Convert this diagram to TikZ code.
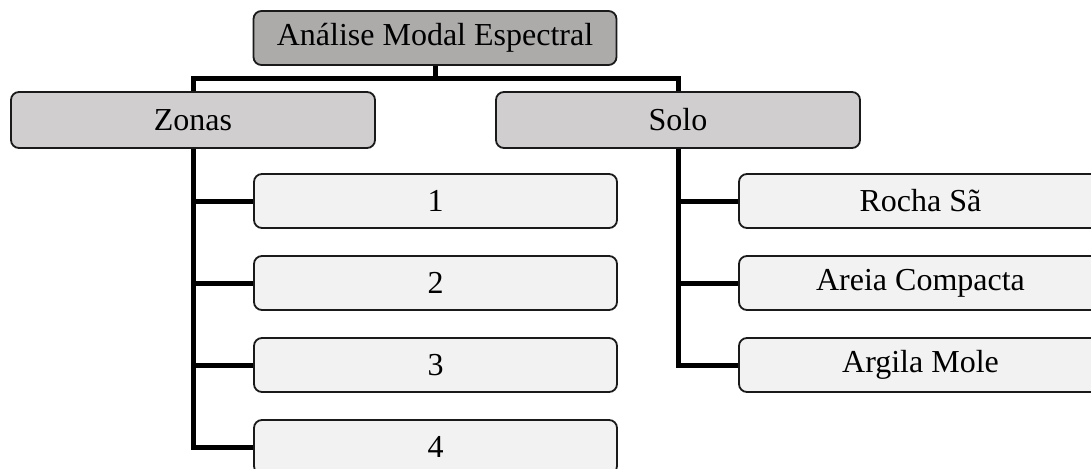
\documentclass[tikz,border=0pt]{standalone}
\usepackage{fontspec}
\setmainfont{Liberation Serif}
\definecolor{rootfill}{HTML}{ADAAAA}
\definecolor{midfill}{HTML}{D0CECE}
\definecolor{leaffill}{HTML}{F2F2F2}
\definecolor{edge}{HTML}{1A1A1A}
\tikzset{
  box/.style={draw=edge, line width=1.8pt, rounded corners=8pt, inner sep=0pt,
              minimum height=54pt, minimum width=363pt,
              font=\fontsize{32}{38}\selectfont},
  rootbox/.style={box, fill=rootfill},
  midbox/.style={box, fill=midfill, minimum height=56pt, minimum width=364pt},
  leafbox/.style={box, fill=leaffill},
  conn/.style={draw=black, line width=5pt}
}
\begin{document}
\begin{tikzpicture}[x=1pt,y=1pt]
  \path[use as bounding box, clip] (0,0) rectangle (1091,-468);

  % root and first level
  \node[rootbox] (root)  at (435,-38)  {Análise Modal Espectral};
  \node[midbox]  (zonas) at (193,-120) {Zonas};
  \node[midbox]  (solo)  at (678,-120) {Solo};

  % zones
  \node[leafbox] (z1) at (435.5,-201) {1};
  \node[leafbox] (z2) at (435.5,-283) {2};
  \node[leafbox] (z3) at (435.5,-365) {3};
  \node[leafbox] (z4) at (435.5,-447) {4};

  % soil types
  \node[leafbox] (s1) at (920.5,-201) {Rocha Sã};
  \node[leafbox] (s2) at (920.5,-283) {Areia Compacta};
  \node[leafbox] (s3) at (920.5,-365) {Argila Mole};

  % top-level bar
  \coordinate (bar) at (435,-79);
  \draw[conn] (root.south) -- (bar);
  \draw[conn] (zonas.north) |- (bar) -| (solo.north);

  % zones branch
  \draw[conn] (zonas.south) |- (z4.west);
  \draw[conn] (zonas.south |- z1.west) -- (z1.west);
  \draw[conn] (zonas.south |- z2.west) -- (z2.west);
  \draw[conn] (zonas.south |- z3.west) -- (z3.west);

  % soil branch
  \draw[conn] (solo.south) |- (s3.west);
  \draw[conn] (solo.south |- s1.west) -- (s1.west);
  \draw[conn] (solo.south |- s2.west) -- (s2.west);
\end{tikzpicture}
\end{document}
